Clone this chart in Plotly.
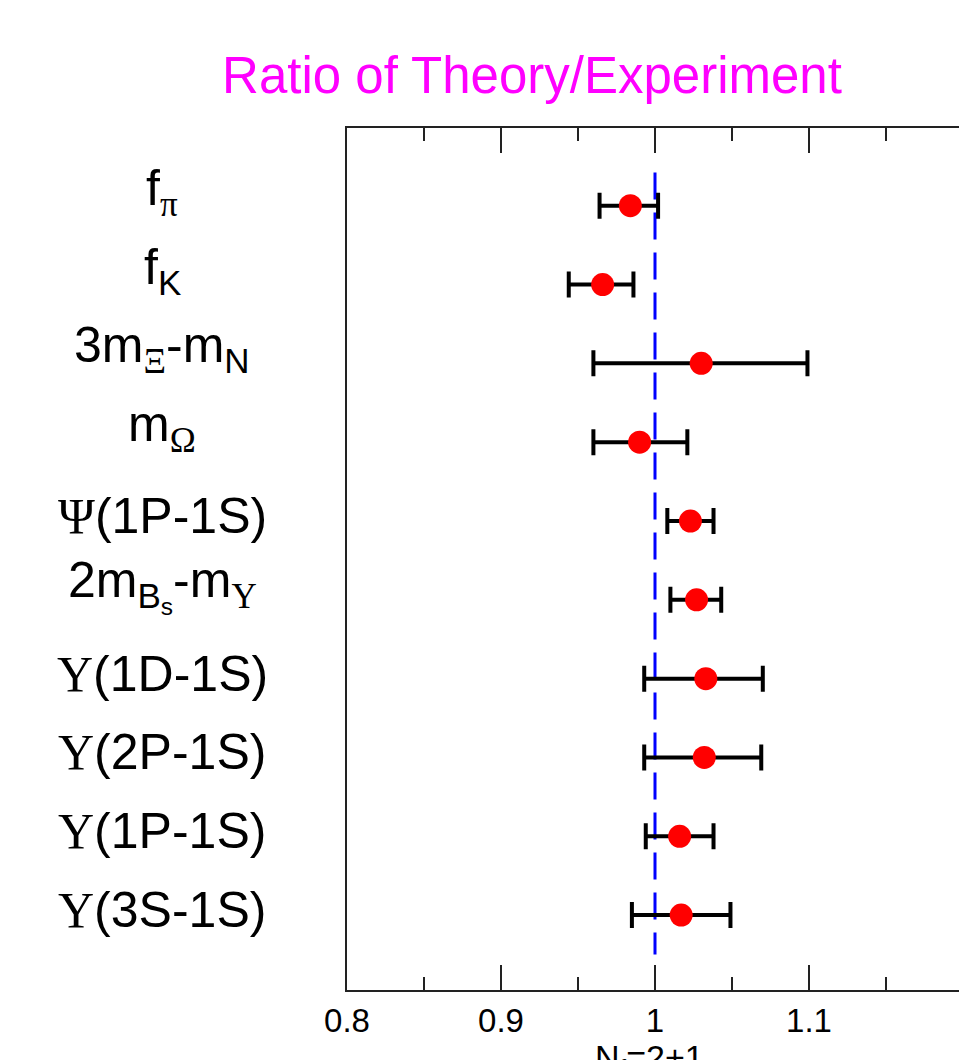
import plotly.graph_objects as go

SERIF = "Liberation Serif"

def sym(ch):
    return '<span style="font-family:%s">%s</span>' % (SERIF, ch)

# ---------------- data ----------------
labels = [
    "f<sub>" + sym("π") + "</sub>",
    "f<sub>K</sub>",
    "3m<sub>" + sym("Ξ") + "</sub>-m<sub>N</sub>",
    "m<sub>" + sym("Ω") + "</sub>",
    sym("Ψ") + "(1P-1S)",
    "2m<sub>B<sub>s</sub></sub>-m<sub>" + sym("Υ") + "</sub>",
    sym("Υ") + "(1D-1S)",
    sym("Υ") + "(2P-1S)",
    sym("Υ") + "(1P-1S)",
    sym("Υ") + "(3S-1S)",
]
row_pos = [1, 2, 3, 4, 5, 6, 7, 8, 9, 10]
ratio = [0.984, 0.966, 1.030, 0.990, 1.023, 1.027, 1.033, 1.032, 1.016, 1.017]
ratio_low = [0.964, 0.944, 0.960, 0.960, 1.008, 1.010, 0.993, 0.993, 0.994, 0.985]
ratio_high = [1.002, 0.986, 1.099, 1.021, 1.038, 1.043, 1.070, 1.069, 1.038, 1.049]

ref_x = [1.0, 1.0]
ref_y = [0.58, 10.5]

x_tickvals = [0.8, 0.9, 1.0, 1.1]
x_ticktext = ["0.8", "0.9", "1", "1.1"]
x_title = "N<sub>f</sub>=2+1"
main_title = "Ratio of Theory/Experiment"

err_plus = [h - v for h, v in zip(ratio_high, ratio)]
err_minus = [v - l for v, l in zip(ratio, ratio_low)]

fig = go.Figure()

fig.add_trace(go.Scatter(
    x=ref_x, y=ref_y, mode="lines",
    line=dict(color="#0000ff", width=3, dash="27px,13px"),
    showlegend=False, hoverinfo="skip",
))

fig.add_trace(go.Scatter(
    x=ratio, y=row_pos, mode="markers",
    marker=dict(color="#ff0000", size=23, line=dict(width=0)),
    error_x=dict(type="data", symmetric=False, array=err_plus, arrayminus=err_minus,
                 color="black", thickness=4, width=13),
    showlegend=False,
))

for y, lab in zip(row_pos, labels):
    fig.add_annotation(
        x=-0.3017, xref="paper", y=y, yref="y",
        text=lab, showarrow=False, xanchor="center", yanchor="middle",
        yshift=(14 if "<sub>" in lab else 5),
        font=dict(family="Liberation Sans, Arial", size=50, color="black"),
    )

# x-axis title placed below the tick labels
fig.add_annotation(
    x=0.495, xref="paper", y=0, yref="paper",
    text=x_title, showarrow=False, xanchor="center", yanchor="top",
    yshift=-46,
    font=dict(family="Liberation Sans, Arial", size=34, color="black"),
)

fig.update_layout(
    width=959, height=1060,
    margin=dict(l=347, r=0, t=128, b=70, autoexpand=False),
    paper_bgcolor="white", plot_bgcolor="white",
    font=dict(family="Liberation Sans, Arial", color="black"),
    title=dict(
        text=main_title,
        font=dict(family="Liberation Sans, Arial", size=51, color="#ff00ff"),
        x=532 / 959, xref="container", xanchor="center",
        y=1 - 75 / 1060, yref="container", yanchor="middle",
    ),
    showlegend=False,
)

fig.update_xaxes(
    range=[0.8, 1.1974], automargin=False,
    tickvals=x_tickvals, ticktext=x_ticktext,
    ticks="inside", ticklen=25, tickwidth=2, tickcolor="#222",
    minor=dict(dtick=0.05, tick0=0.8, ticks="inside", ticklen=13, tickwidth=2, tickcolor="#222"),
    showline=True, linewidth=2, linecolor="#222", mirror="ticks",
    showgrid=False, zeroline=False,
    tickfont=dict(family="Liberation Sans, Arial", size=33, color="black"),
)
fig.update_yaxes(
    range=[10.95, 0.014], automargin=False,
    showticklabels=False, ticks="",
    showline=True, linewidth=2, linecolor="#222", mirror=False,
    showgrid=False, zeroline=False,
)

fig.write_html("out.html")
